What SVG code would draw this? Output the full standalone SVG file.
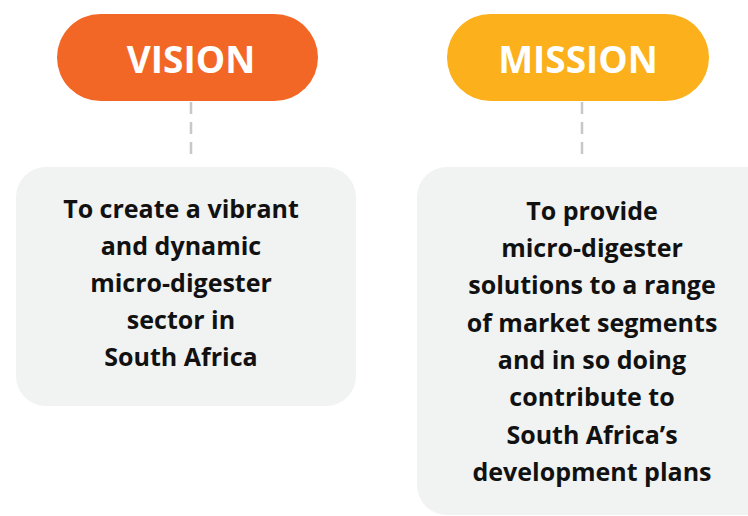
<svg xmlns="http://www.w3.org/2000/svg" width="748" height="516" viewBox="0 0 748 516">
<style>
.pill-text{font-family:"Open Sans","Noto Sans",sans-serif;font-weight:700;font-size:37px;fill:#ffffff;text-anchor:middle}
.box{fill:#f1f2f2}
.body{font-family:"Open Sans","Noto Sans",sans-serif;font-weight:700;font-size:25px;fill:#111111;text-anchor:middle}
.dash{stroke:#c8c8c8;stroke-width:2.5;stroke-dasharray:12 8;fill:none}
</style>
<rect width="748" height="516" fill="#ffffff"/>
<g id="connectors">
<line class="dash" x1="191" y1="102" x2="191" y2="160"/>
<line class="dash" x1="582" y1="102" x2="582" y2="160"/>
</g>
<g id="vision">
<rect x="57" y="14" width="261" height="87" rx="43.5" fill="#f26726"/>
<text class="pill-text" x="191" y="73">VISION</text>
</g>
<g id="mission">
<rect x="447" y="14" width="262" height="87" rx="43.5" fill="#fbb01c"/>
<text class="pill-text" x="578" y="73">MISSION</text>
</g>
<g id="vision-text">
<rect class="box" x="16" y="167" width="340" height="239" rx="30"/>
<text class="body" x="181" y="218">To create a vibrant</text>
<text class="body" x="181" y="255">and dynamic</text>
<text class="body" x="181" y="292">micro-digester</text>
<text class="body" x="181" y="329">sector in</text>
<text class="body" x="181" y="366">South Africa</text>
</g>
<g id="mission-text">
<rect class="box" x="417" y="167" width="360" height="348" rx="30"/>
<text class="body" x="592" y="220">To provide</text>
<text class="body" x="592" y="257">micro-digester</text>
<text class="body" x="592" y="294">solutions to a range</text>
<text class="body" x="592" y="332">of market segments</text>
<text class="body" x="592" y="369">and in so doing</text>
<text class="body" x="592" y="406">contribute to</text>
<text class="body" x="592" y="444">South Africa’s</text>
<text class="body" x="592" y="481">development plans</text>
</g>
</svg>
